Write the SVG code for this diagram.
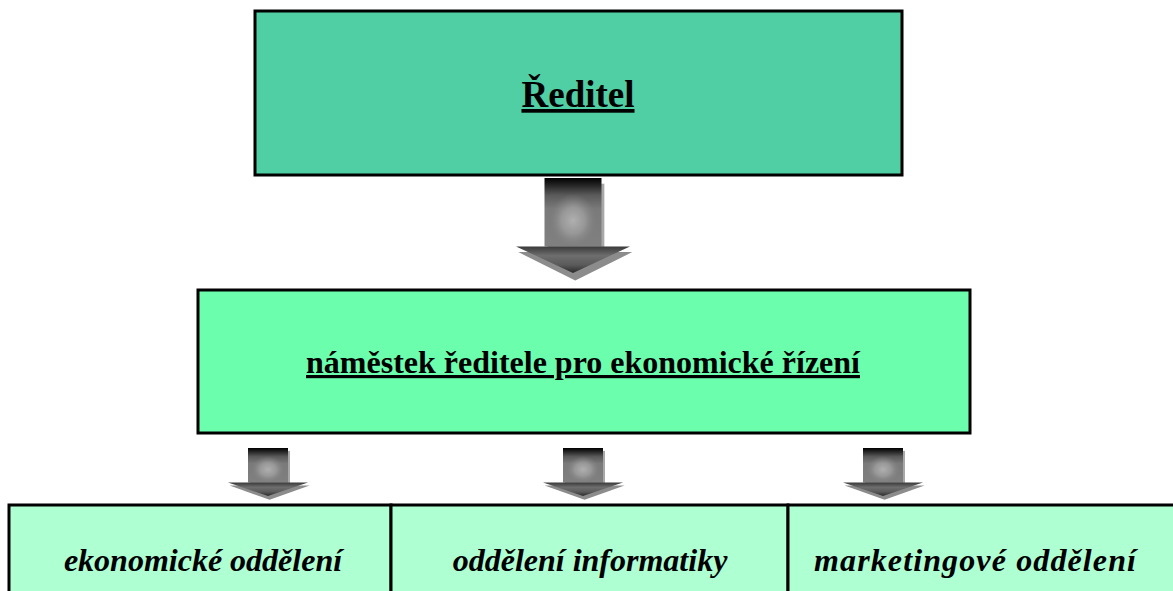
<svg xmlns="http://www.w3.org/2000/svg" width="1173" height="591" viewBox="0 0 1173 591">
  <style>
    .box { stroke: #000; stroke-width: 3; }
    .title { font-family: "Liberation Serif", "Times New Roman", serif; font-weight: bold; text-decoration: underline; fill: #000; text-anchor: middle; }
    .dept { font-family: "Liberation Serif", "Times New Roman", serif; font-weight: bold; font-style: italic; font-size: 32px; fill: #000; text-anchor: middle; }
  </style>
  <defs>
    <!-- shaded block arrow, drawn at unit size around its own origin (top centre) -->
    <linearGradient id="shaftTop" x1="0" y1="0" x2="0" y2="1">
      <stop offset="0" stop-color="#000"/>
      <stop offset="0.12" stop-color="#2a2a2a"/>
      <stop offset="0.25" stop-color="#5a5a5a"/>
      <stop offset="0.45" stop-color="#7a7a7a"/>
      <stop offset="1" stop-color="#808080"/>
    </linearGradient>
    <radialGradient id="shaftGlow" cx="0.5" cy="0.55" r="0.5">
      <stop offset="0" stop-color="#b0b0b0"/>
      <stop offset="0.5" stop-color="#9a9a9a" stop-opacity="0.9"/>
      <stop offset="1" stop-color="#808080" stop-opacity="0"/>
    </radialGradient>
    <linearGradient id="headFill" x1="0" y1="0" x2="0" y2="1">
      <stop offset="0" stop-color="#3a3a3a"/>
      <stop offset="0.35" stop-color="#6e6e6e"/>
      <stop offset="0.7" stop-color="#5a5a5a"/>
      <stop offset="1" stop-color="#2a2a2a"/>
    </linearGradient>
    <g id="blockArrow">
      <!-- soft offset shadow -->
      <rect x="-0.45" y="0.06" width="1" height="0.72" fill="#a8a8a8"/>
      <polygon points="-0.96,0.78 1.04,0.78 0.04,1.08" fill="#8c8c8c"/>
      <!-- body -->
      <rect x="-0.5" y="0" width="1" height="0.72" fill="url(#shaftTop)"/>
      <rect x="-0.42" y="0.14" width="0.84" height="0.56" fill="url(#shaftGlow)"/>
      <polygon points="-1,0.72 1,0.72 0,1" fill="url(#headFill)"/>
    </g>
  </defs>

  <!-- director -->
  <g id="reditel">
    <rect class="box" x="255" y="11" width="647" height="164" fill="#50cea4"/>
    <text class="title" x="578" y="107" font-size="37">Ředitel</text>
  </g>

  <!-- deputy director for economics -->
  <g id="namestek">
    <rect class="box" x="198" y="290" width="772" height="143" fill="#6bffad"/>
    <text class="title" x="583" y="373" font-size="32">náměstek ředitele pro ekonomické řízení</text>
  </g>

  <!-- departments -->
  <g id="ekonomicke">
    <rect class="box" x="9" y="505" width="382" height="100" fill="#aeffd2"/>
    <text class="dept" x="203" y="571">ekonomické oddělení</text>
  </g>
  <g id="informatika">
    <rect class="box" x="391" y="505" width="397" height="100" fill="#aeffd2"/>
    <text class="dept" x="590" y="571">oddělení informatiky</text>
  </g>
  <g id="marketing">
    <rect class="box" x="788" y="505" width="400" height="100" fill="#aeffd2"/>
    <text class="dept" x="975" y="571" textLength="322" lengthAdjust="spacing">marketingové oddělení</text>
  </g>

  <!-- connectors -->
  <g id="connectors">
    <use href="#blockArrow" transform="translate(573,178) scale(57,95)"/>
    <use href="#blockArrow" transform="translate(268,448) scale(40,48)"/>
    <use href="#blockArrow" transform="translate(583,448) scale(40,48)"/>
    <use href="#blockArrow" transform="translate(883,448) scale(40,48)"/>
  </g>
</svg>
